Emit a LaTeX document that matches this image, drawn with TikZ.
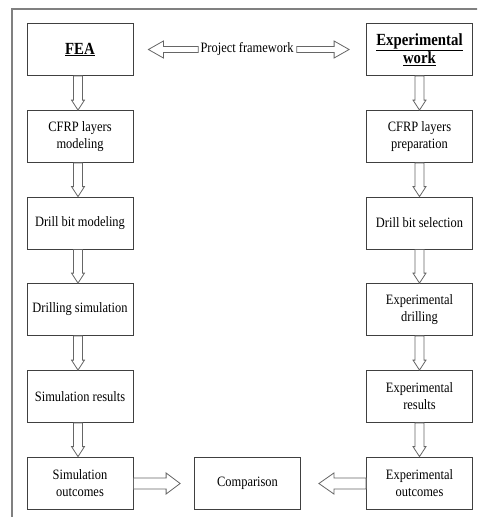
\documentclass[tikz,border=0pt]{standalone}
\usepackage{fontspec}
\setmainfont{Liberation Serif}[FakeStretch=0.87]
\usetikzlibrary{calc}
\tikzset{
  box/.style={draw=black!75, line width=0.8pt, minimum width=106pt, minimum height=52pt,
    inner sep=1pt, align=center, font=\fontsize{14.3}{17}\selectfont},
  headbox/.style={box, font=\fontsize{17}{17}\selectfont\bfseries},
  blockarr/.style={draw=black!60, line width=0.8pt, fill=white, line join=miter},
  framestyle/.style={draw=black!50, line width=1.2pt}
}
% horizontal block arrow: tail point, tip point, shaft half-height, head half-height, head length
\newcommand{\blockh}[5]{%
  \draw[blockarr] let \p1=#1, \p2=#2, \p3=($#2!#5!#1$) in
    (\x1,\y2+#3) -- (\x3,\y2+#3) -- (\x3,\y2+#4) -- (\x2,\y2) -- (\x3,\y2-#4)
    -- (\x3,\y2-#3) -- (\x1,\y2-#3) -- cycle;}
% vertical block arrow
\newcommand{\blockv}[5]{%
  \draw[blockarr] let \p1=#1, \p2=#2, \p3=($#2!#5!#1$) in
    (\x2+#3,\y1) -- (\x2+#3,\y3) -- (\x2+#4,\y3) -- (\x2,\y2) -- (\x2-#4,\y3)
    -- (\x2-#3,\y3) -- (\x2-#3,\y1) -- cycle;}
\begin{document}
\begin{tikzpicture}[x=1pt,y=-1pt]
\useasboundingbox (0,0) rectangle (477,517);
\begin{scope}
\clip (0,0) rectangle (477,517);
\draw[framestyle] (12,9) rectangle (495,535);
\end{scope}
% left column
\node[headbox] (fea) at (80,49.5) {\underline{FEA}};
\node[box] (cfrpm) at (80,136.5) {CFRP layers\\modeling};
\node[box] (dbm) at (80,223) {Drill bit modeling};
\node[box] (ds) at (80,309.5) {Drilling simulation};
\node[box] (sr) at (80,396.5) {Simulation results};
\node[box] (so) at (80,483) {Simulation\\outcomes};
% right column
\node[headbox] (exw) at (419.5,49.5) {\underline{Experimental}\\\underline{work}};
\node[box] (cfrpp) at (419.5,136.5) {CFRP layers\\preparation};
\node[box] (dbs) at (419.5,223) {Drill bit selection};
\node[box] (ed) at (419.5,309.5) {Experimental\\drilling};
\node[box] (er) at (419.5,396.5) {Experimental\\results};
\node[box] (eo) at (419.5,483) {Experimental\\outcomes};
% middle
\node[box] (comp) at (247.5,483.5) {Comparison};
\node[inner sep=0pt, font=\fontsize{14.3}{17}\selectfont] (pf) at (247,49) {Project framework};
% top arrows
\blockh{([xshift=-2pt]pf.west)}{([xshift=15pt]fea.east)}{3pt}{8.5pt}{15pt}
\blockh{([xshift=3pt]pf.east)}{([xshift=-17pt]exw.west)}{3pt}{8.5pt}{15pt}
% vertical arrows left
\blockv{([xshift=-2pt]fea.south)}{([xshift=-2pt]cfrpm.north)}{4.5pt}{6.5pt}{10pt}
\blockv{([xshift=-2pt]cfrpm.south)}{([xshift=-2pt]dbm.north)}{4.5pt}{6.5pt}{10pt}
\blockv{([xshift=-2pt]dbm.south)}{([xshift=-2pt]ds.north)}{4.5pt}{6.5pt}{10pt}
\blockv{([xshift=-2pt]ds.south)}{([xshift=-2pt]sr.north)}{4.5pt}{6.5pt}{10pt}
\blockv{([xshift=-2pt]sr.south)}{([xshift=-2pt]so.north)}{4.5pt}{6.5pt}{10pt}
% vertical arrows right
\blockv{(exw.south)}{(cfrpp.north)}{4.5pt}{6.5pt}{10pt}
\blockv{(cfrpp.south)}{(dbs.north)}{4.5pt}{6.5pt}{10pt}
\blockv{(dbs.south)}{(ed.north)}{4.5pt}{6.5pt}{10pt}
\blockv{(ed.south)}{(er.north)}{4.5pt}{6.5pt}{10pt}
\blockv{(er.south)}{(eo.north)}{4.5pt}{6.5pt}{10pt}
% bottom arrows
\blockh{(so.east)}{([xshift=-14pt]comp.west)}{5.5pt}{10.5pt}{14pt}
\blockh{(eo.west)}{([xshift=18pt]comp.east)}{5.5pt}{10.5pt}{15pt}
\end{tikzpicture}
\end{document}
